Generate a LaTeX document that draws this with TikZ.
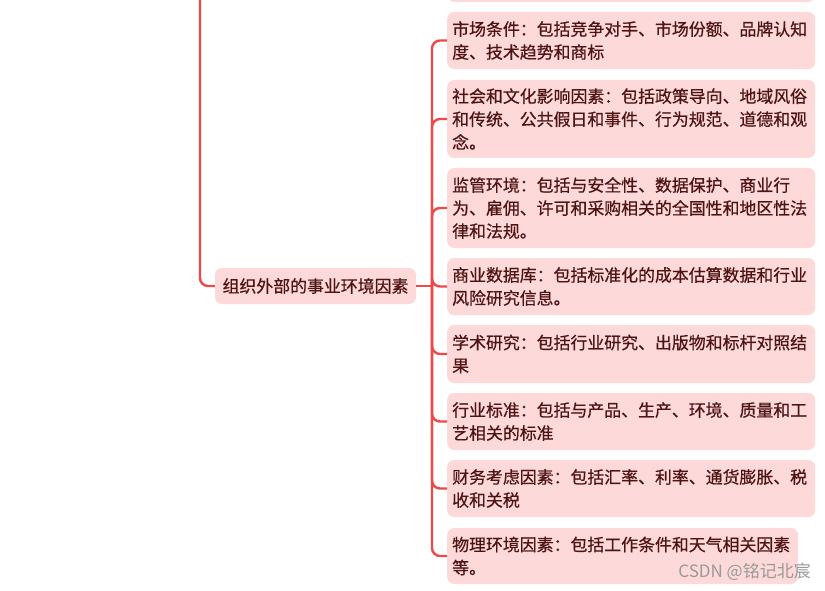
\documentclass[tikz,border=0pt]{standalone}
\usepackage{fontspec}
\setmainfont{Noto Sans CJK SC}[FakeBold=0.6,AutoFakeBold=0]
\newfontfamily\textfnt{Noto Sans CJK SC}[FakeBold=0.6]
\newfontfamily\wmfont{Noto Sans CJK SC}
\definecolor{linered}{HTML}{F04848}
\definecolor{boxfill}{HTML}{FDD9D9}
\definecolor{boxtext}{HTML}{4E1414}
\definecolor{wmgrey}{HTML}{9A9A9A}
\begin{document}
\begin{tikzpicture}[x=1pt,y=-1pt,
  leaf/.style={rectangle, rounded corners=7pt, fill=boxfill, text=boxtext,
    anchor=west, align=left, text width=358pt, inner xsep=5pt, inner ysep=0pt,
    font=\textfnt\fontsize{16.9pt}{23pt}\selectfont},
  hubnode/.style={rectangle, rounded corners=7pt, fill=boxfill, text=boxtext,
    minimum width=201pt, minimum height=36pt, inner sep=0pt,
    font=\textfnt\fontsize{16.9pt}{23pt}\selectfont},
  link/.style={draw=linered, line width=2.4pt, rounded corners=8pt}]
\useasboundingbox (0,0) rectangle (825,591);
\fill[white] (0,0) rectangle (825,591);
% partial top box
\node[rectangle, rounded corners=7pt, fill=boxfill, minimum width=368pt, minimum height=40pt, anchor=south west, inner sep=0pt] (prev) at (447,2) {};
% center node
\node[hubnode] (ctr) at (315.5,286) {组织外部的事业环境因素};
\coordinate (ltop) at (200,-5);
\coordinate (hub) at (432,286);
% leaves
\node[leaf, minimum height=57pt] (c1) at (447,40.5) {市场条件：包括竞争对手、市场份额、品牌认知\\度、技术趋势和商标};
\node[leaf, minimum height=78pt] (c2) at (447,119) {社会和文化影响因素：包括政策导向、地域风俗\\和传统、公共假日和事件、行为规范、道德和观\\念。};
\node[leaf, minimum height=80pt] (c3) at (447,208) {监管环境：包括与安全性、数据保护、商业行\\为、雇佣、许可和采购相关的全国性和地区性法\\律和法规。};
\node[leaf, minimum height=57pt] (c4) at (447,286.5) {商业数据库：包括标准化的成本估算数据和行业\\风险研究信息。};
\node[leaf, minimum height=58pt] (c5) at (447,354) {学术研究：包括行业研究、出版物和标杆对照结\\果};
\node[leaf, minimum height=57pt] (c6) at (447,421.5) {行业标准：包括与产品、生产、环境、质量和工\\艺相关的标准};
\node[leaf, minimum height=57pt] (c7) at (447,488.5) {财务考虑因素：包括汇率、利率、通货膨胀、税\\收和关税};
\node[leaf, minimum height=56pt, text width=341pt] (c8) at (447,556) {物理环境因素：包括工作条件和天气相关因素\\等。};
% connectors
\draw[link] (ltop) |- (ctr.west);
\draw[link] (ctr.east) -- (hub);
\foreach \c in {c1,c2,c3,c4,c5,c6,c7,c8}{
  \draw[link] (hub) |- (\c.west);
}
% watermark
\node[text=wmgrey, font=\wmfont\fontsize{17pt}{20pt}\selectfont, anchor=east, inner sep=0pt] (wm) at (811,572) {CSDN @铭记北宸};
\end{tikzpicture}
\end{document}
